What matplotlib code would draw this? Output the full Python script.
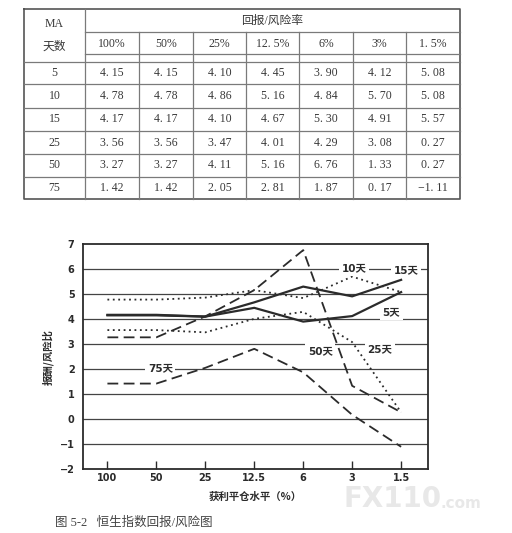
import matplotlib.pyplot as plt
import numpy as np

plt.rcParams['font.family'] = ['DejaVu Sans', 'Noto Sans CJK SC']

# data from the table (also drawn in the chart)
levels = ['100%', '50%', '25%', '12. 5%', '6%', '3%', '1. 5%']
x_ticks = ['100', '50', '25', '12.5', '6', '3', '1.5']
ma_days = ['5', '10', '15', '25', '50', '75']
ratios = {
    '5':  [4.15, 4.15, 4.10, 4.45, 3.90, 4.12, 5.08],
    '10': [4.78, 4.78, 4.86, 5.16, 4.84, 5.70, 5.08],
    '15': [4.17, 4.17, 4.10, 4.67, 5.30, 4.91, 5.57],
    '25': [3.56, 3.56, 3.47, 4.01, 4.29, 3.08, 0.27],
    '50': [3.27, 3.27, 4.11, 5.16, 6.76, 1.33, 0.27],
    '75': [1.42, 1.42, 2.05, 2.81, 1.87, 0.17, -1.11],
}
line_styles = {
    '5': '-', '15': '-',
    '10': (0, (1, 2)), '25': (0, (1, 2)),
    '50': (0, (6, 3)), '75': (0, (6, 3)),
}
labels = {'10': (5.04, 6.04), '15': (6.1, 5.96), '5': (5.8, 4.28),
          '50': (4.35, 2.72), '25': (5.57, 2.8), '75': (1.08, 2.04)}

fig = plt.figure(figsize=(5.12, 5.33), dpi=100)

# ---- table, drawn in pixel coordinates ----
tb = fig.add_axes([0, 0, 1, 1])
tb.set_xlim(0, 512)
tb.set_ylim(533, 0)
tb.axis('off')

serif = ['Liberation Serif', 'Noto Sans CJK SC']
cjk = ['Noto Sans CJK SC', 'DejaVu Sans']
tc = '#383838'
lc = '#7a7a7a'
cols = [24, 85, 139, 193, 246, 299, 353, 406, 460]
row_lines = [62, 84, 108, 131, 154, 177, 199]

tb.plot([24, 460, 460, 24, 24], [9, 9, 199, 199, 9], color='#555555', lw=1.2)
tb.plot([85, 85], [9, 199], color=lc, lw=0.9)
for c in cols[2:-1]:
    tb.plot([c, c], [32, 199], color=lc, lw=0.9)
tb.plot([85, 460], [32, 32], color=lc, lw=0.9)
tb.plot([85, 460], [54, 54], color=lc, lw=0.9)
for r in row_lines[:-1]:
    tb.plot([24, 460], [r, r], color=lc, lw=0.9)

tb.text(54.5, 24, 'MA', ha='center', va='center', fontsize=8.5, family=serif, color=tc)
tb.text(54.5, 47, '天数', ha='center', va='center', fontsize=8.5, family=serif, color=tc)
tb.text(272, 21, '回报/风险率', ha='center', va='center', fontsize=8.5, family=serif, color=tc)
for j, lv in enumerate(levels):
    xc = (cols[j + 1] + cols[j + 2]) / 2
    tb.text(xc, 44, lv, ha='center', va='center', fontsize=8.5, family=serif, color=tc)
for i, d in enumerate(ma_days):
    yc = (row_lines[i] + row_lines[i + 1]) / 2
    tb.text(54.5, yc, d, ha='center', va='center', fontsize=8.5, family=serif, color=tc)
    for j, v in enumerate(ratios[d]):
        xc = (cols[j + 1] + cols[j + 2]) / 2
        s = ('%.2f' % v).replace('.', '. ').replace('-', '−')
        tb.text(xc, yc, s, ha='center', va='center', fontsize=8.5, family=serif, color=tc)

# watermark
tb.text(344, 499, 'FX110', ha='left', va='center', fontsize=20, weight='bold',
        color='#e8e8e8', zorder=0)
tb.text(440, 503, '.com', ha='left', va='center', fontsize=11, weight='bold',
        color='#e8e8e8', zorder=0)

# caption
tb.text(55, 523, '图 5-2   恒生指数回报/风险图', ha='left', va='center', fontsize=9,
        family=serif, color='#444444')

# ---- chart ----
ax = fig.add_axes([0.162, 0.120, 0.674, 0.422])
x = np.arange(len(x_ticks))
lc2 = '#2b2b2b'
for d in ma_days:
    lw = 1.6 if line_styles[d] == '-' else 1.3
    ax.plot(x, ratios[d], linestyle=line_styles[d], color=lc2, lw=lw, zorder=3)
for d, (tx, ty) in labels.items():
    ax.text(tx, ty, d + '天', ha='center', va='center', fontsize=7.5, weight='bold',
            color=lc2, zorder=4,
            bbox=dict(boxstyle='square,pad=0.25', fc='white', ec='none'))

for g in range(-1, 7):
    ax.axhline(g, color='#444444', lw=0.9, zorder=1)

ax.set_xlim(-0.5, 6.55)
ax.set_ylim(-2, 7)
ax.set_xticks(x)
ax.set_xticklabels(x_ticks, fontsize=7, weight='bold', color=lc2)
ax.set_yticks(range(-2, 8))
ax.set_yticklabels([str(v).replace('-', '−') for v in range(-2, 8)],
                   fontsize=7, weight='bold', color=lc2)
ax.tick_params(axis='x', direction='in', length=6, width=1, color=lc2, pad=3)
ax.tick_params(axis='y', length=0, pad=6)
for sp in ax.spines.values():
    sp.set_linewidth(1.3)
    sp.set_color(lc2)
ax.set_xlabel('获利平仓水平（%）', fontsize=7.5, weight='bold', color=lc2,
              labelpad=6, family=cjk)
ax.set_ylabel('报酬/风险比', fontsize=7.5, weight='bold', color=lc2,
              labelpad=4, family=cjk)

fig.savefig('out.png', dpi=100)
